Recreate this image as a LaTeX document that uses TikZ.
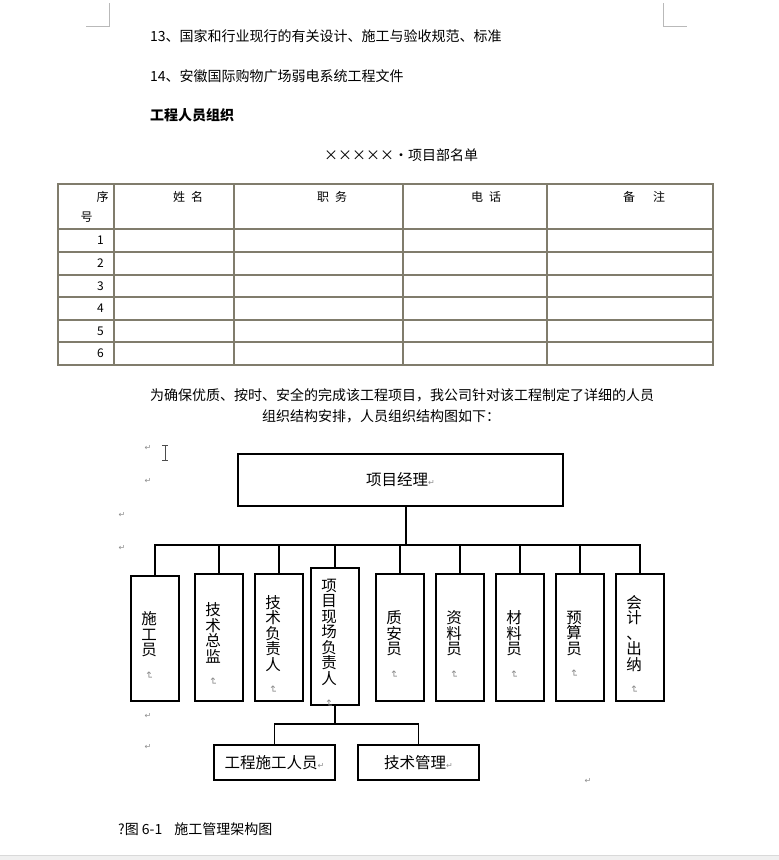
\documentclass[tikz,border=0pt]{standalone}
\usepackage{fontspec}
\setmainfont{Noto Sans CJK SC}
\newfontfamily\symfont{DejaVu Sans}
\definecolor{tblline}{RGB}{128,124,108}
\definecolor{markgray}{RGB}{140,140,140}
\definecolor{cornergray}{RGB}{185,185,185}
\newcommand\retmark{{\symfont\fontsize{8pt}{8pt}\selectfont\textcolor{markgray}{↵}}}
\newcommand\vmark{\rotatebox{-90}{{\symfont\fontsize{10pt}{10pt}\selectfont\textcolor{markgray}{↵}}}}
\newcommand\xx{\makebox[1em]{×}}

\begin{document}
\begin{tikzpicture}[x=1pt,y=-1pt,font=\fontsize{14pt}{16pt}\selectfont,
  txt/.style={anchor=west,inner sep=0pt},
  cell/.style={inner sep=0pt,font=\fontsize{12pt}{13pt}\selectfont},
  tbl/.style={draw=tblline,line width=1.5pt},
  ln/.style={line width=1.2pt},
  mgr/.style={draw,line width=1.2pt,inner sep=0pt,minimum width=325pt,minimum height=52pt,font=\fontsize{15.5pt}{16pt}\selectfont},
  vbox/.style={draw,line width=1.2pt,inner sep=0pt,minimum width=48pt,minimum height=127pt},
  vtxt/.style={inner sep=0pt,align=center,xshift=-6pt,yshift=-7pt,font=\fontsize{15.5pt}{15.5pt}\selectfont},
  sub/.style={draw,line width=1.2pt,inner sep=0pt,minimum width=121pt,minimum height=35pt,font=\fontsize{15.5pt}{16pt}\selectfont},
  pmk/.style={inner sep=0pt}]
  \useasboundingbox (0,0) rectangle (779,860);
  % page corners and bottom edge
  \draw[cornergray] (86,26) -- (109,26) -- (109,3);
  \draw[cornergray] (663,3) -- (663,26) -- (687,26);
  \fill[black!6] (0,855) rectangle (779,860);
  \draw[black!15] (0,855) -- (779,855);

  % text above the table
  \node[txt] (l13) at (150,36) {13、国家和行业现行的有关设计、施工与验收规范、标准};
  \node[txt] (l14) at (150,76) {14、安徽国际购物广场弱电系统工程文件};
  \node[txt,font=\fontsize{14pt}{16pt}\selectfont\bfseries] (head) at (150,115) {工程人员组织};
  \node[inner sep=0pt] (title) at (401,155) {\xx\xx\xx\xx\xx·项目部名单};

  % name list table
  \draw[tbl] (58,184) rectangle (713,365);
  \draw[tbl] (114,184) -- (114,365) (234,184) -- (234,365) (403,184) -- (403,365) (547,184) -- (547,365);
  \draw[tbl] (58,229) -- (713,229) (58,252) -- (713,252) (58,275) -- (713,275) (58,297) -- (713,297)
    (58,320) -- (713,320) (58,342) -- (713,342);
  \node[cell] (h1a) at (102.5,197) {序};
  \node[cell] (h1b) at (86.5,217) {号};
  \node[cell] (h2) at (188,197) {姓\hspace{6pt}名};
  \node[cell] (h3) at (332,197) {职\hspace{6pt}务};
  \node[cell] (h4) at (486,197) {电\hspace{6pt}话};
  \node[cell] (h5) at (644,197) {备\hspace{18pt}注};
  \node[cell,anchor=east] (n1) at (104,240.5) {1};
  \node[cell,anchor=east] (n2) at (104,263.5) {2};
  \node[cell,anchor=east] (n3) at (104,286) {3};
  \node[cell,anchor=east] (n4) at (104,308.5) {4};
  \node[cell,anchor=east] (n5) at (104,331) {5};
  \node[cell,anchor=east] (n6) at (104,353.5) {6};

  \node[txt] (para1) at (150,395) {为确保优质、按时、安全的完成该工程项目，我公司针对该工程制定了详细的人员};
  \node[inner sep=0pt] (para2) at (381,416) {组织结构安排，人员组织结构图如下：};

  % paragraph marks and cursor
  \node[pmk] (m1) at (148,448) {\retmark};
  \node[pmk] (m2) at (148,481) {\retmark};
  \node[pmk] (m3) at (122,515) {\retmark};
  \node[pmk] (m4) at (122,548) {\retmark};
  \node[pmk] (m5) at (148,716) {\retmark};
  \node[pmk] (m6) at (148,747) {\retmark};
  \node[pmk] (m7) at (588,781) {\retmark};
  \draw[black!70,line width=0.8pt] (162,445) -- (168,445) (165,445) -- (165,460) (162,460) -- (168,460);

  % organisation chart
  \node[mgr] (pm) at (400.5,480) {项目经理\retmark};
  \coordinate (jct) at (406,545);
  \node[vbox,minimum height=125pt,label={[vtxt]center:施\\工\\员\\\vmark}] (sgy) at (155,638.5) {};
  \node[vbox,label={[vtxt]center:技\\术\\总\\监\\\vmark}] (jszj) at (219,637.5) {};
  \node[vbox,label={[vtxt]center:技\\术\\负\\责\\人\\\vmark}] (jsfz) at (279,637.5) {};
  \node[vbox,minimum height=137pt,label={[vtxt]center:项\\目\\现\\场\\负\\责\\人\\\vmark}] (xcfz) at (335,636.5) {};
  \node[vbox,label={[vtxt]center:质\\安\\员\\\vmark}] (zay) at (400,637.5) {};
  \node[vbox,label={[vtxt]center:资\\料\\员\\\vmark}] (zly) at (460,637.5) {};
  \node[vbox,label={[vtxt]center:材\\料\\员\\\vmark}] (cly) at (520,637.5) {};
  \node[vbox,label={[vtxt]center:预\\算\\员\\\vmark}] (ysy) at (580,637.5) {};
  \node[vbox,label={[vtxt]center:会\\计\\、\\出\\纳\\\vmark}] (kj) at (640,637.5) {};
  \draw[ln] (pm.south -| jct) -- (jct);
  \draw[ln] (sgy.north) |- (jct) -| (kj.north);
  \draw[line width=2.5pt] ([xshift=-8pt]jct) -- ([xshift=12pt]jct);
  \draw[ln] (jszj.north) -- (jszj.north |- jct) (jsfz.north) -- (jsfz.north |- jct)
    (xcfz.north) -- (xcfz.north |- jct) (zay.north) -- (zay.north |- jct)
    (zly.north) -- (zly.north |- jct) (cly.north) -- (cly.north |- jct)
    (ysy.north) -- (ysy.north |- jct);

  \coordinate (br) at (335,724);
  \node[sub] (gcry) at (274.5,762.5) {工程施工人员\retmark};
  \node[sub] (jsgl) at (418.5,762.5) {技术管理\retmark};
  \draw[ln] (xcfz.south) -- (br);
  \draw[ln] (gcry.north) |- (br) -| (jsgl.north);

  \node[txt] (cap) at (118,829) {?图 6-1\hspace{12pt}施工管理架构图};
\end{tikzpicture}
\end{document}
